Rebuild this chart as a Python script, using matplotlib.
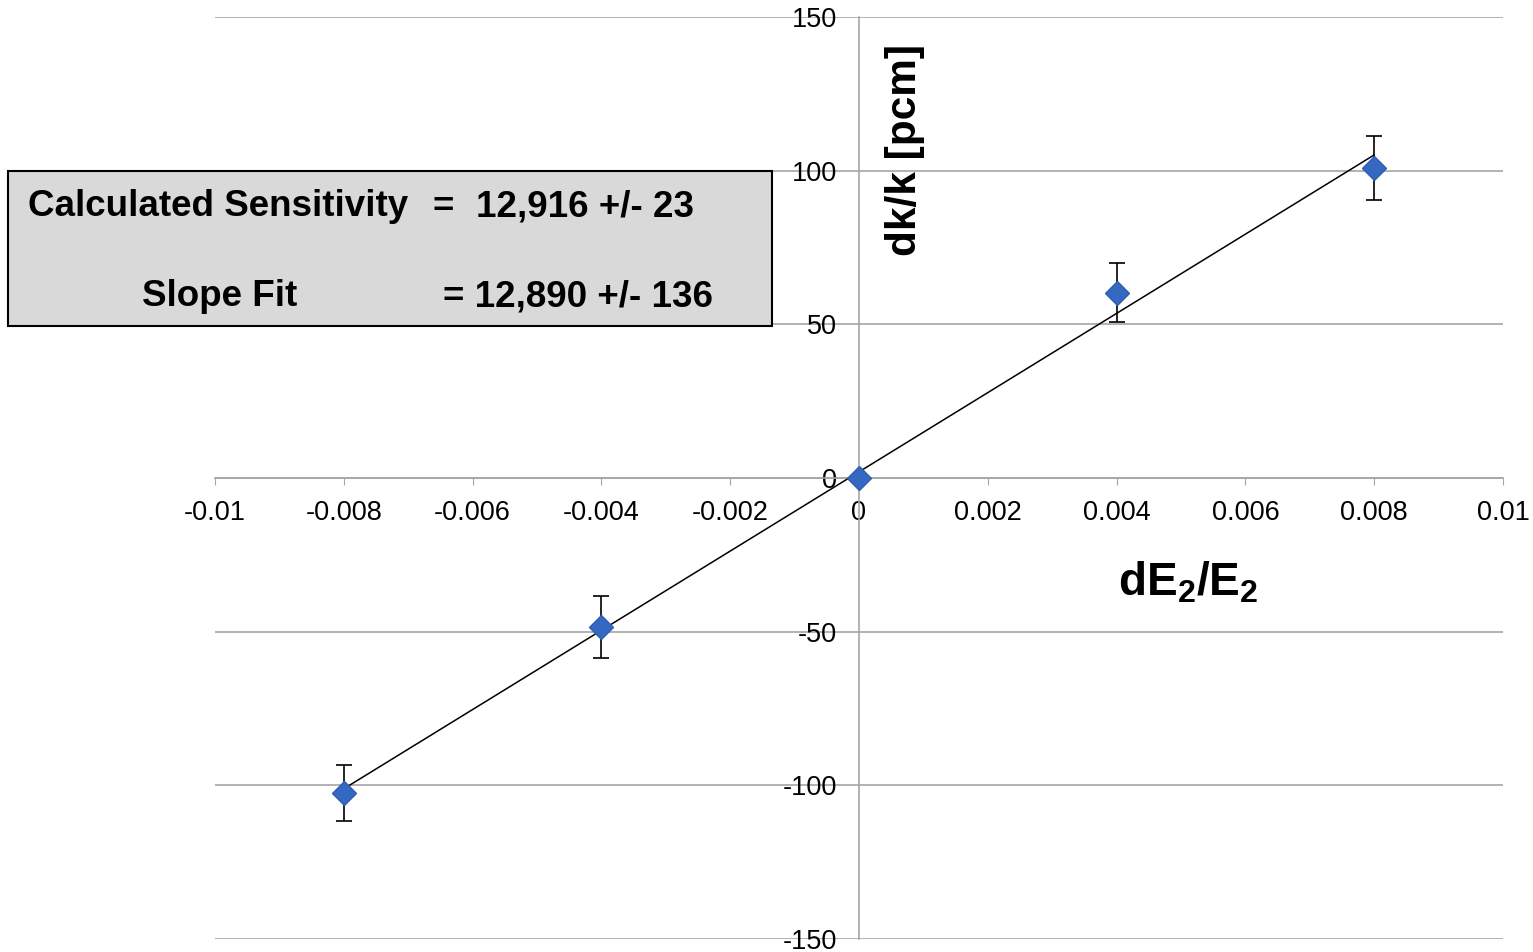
import numpy as np
import matplotlib
matplotlib.use('Agg')
import matplotlib.pyplot as plt
from matplotlib.patches import Rectangle

# data
x_vals = [-0.008, -0.004, 0.0, 0.004, 0.008]
y_vals = [-102.5, -48.5, 0.0, 60.2, 100.9]
y_err = [9.1, 10.0, 0.0, 9.6, 10.4]
fit_slope = 12890
fit_icpt = 2.0
x_ticks = [-0.01, -0.008, -0.006, -0.004, -0.002, 0, 0.002, 0.004, 0.006, 0.008, 0.01]
x_tick_labels = ['-0.01', '-0.008', '-0.006', '-0.004', '-0.002', '0',
                 '0.002', '0.004', '0.006', '0.008', '0.01']
y_ticks = [-150, -100, -50, 0, 50, 100, 150]

plt.rcParams['font.family'] = ['Liberation Sans', 'DejaVu Sans']
plt.rcParams['mathtext.fontset'] = 'custom'
plt.rcParams['mathtext.rm'] = 'Liberation Sans:bold'
plt.rcParams['mathtext.bf'] = 'Liberation Sans:bold'

W, H = 1533, 952
fig = plt.figure(figsize=(W / 100, H / 100), dpi=100)
ax = fig.add_axes([215 / W, 13 / H, (1503 - 215) / W, (939 - 17) / H])

grid_c = '#a6a6a6'
ax.set_xlim(-0.01, 0.01)
ax.set_ylim(-150, 150)
for sp in ['top', 'right']:
    ax.spines[sp].set_visible(False)
ax.spines['left'].set_position(('data', 0))
ax.spines['bottom'].set_position(('data', 0))
ax.spines['left'].set_color(grid_c)
ax.spines['bottom'].set_color(grid_c)
ax.spines['left'].set_linewidth(1.2)
ax.spines['bottom'].set_linewidth(1.2)

ax.set_yticks(y_ticks)
ax.set_yticklabels([str(v) for v in y_ticks])
ax.set_xticks(x_ticks)
ax.set_xticklabels(x_tick_labels)
ax.tick_params(axis='x', direction='out', length=5, color=grid_c, labelsize=19.5, pad=11)
ax.tick_params(axis='y', length=0, labelsize=19.5, pad=16)
ax.yaxis.grid(True, color=grid_c, linewidth=1.2)
ax.set_axisbelow(True)

# fit line
xf = np.array([x_vals[0], x_vals[-1]])
ax.plot(xf, fit_slope * xf + fit_icpt, color='black', linewidth=1.1, zorder=3)

ax.errorbar(x_vals, y_vals, yerr=y_err, fmt='none', ecolor='black',
            elinewidth=1.2, capsize=6, capthick=1.2, zorder=2)
ax.plot(x_vals, y_vals, linestyle='none', marker='D', markersize=12,
        markerfacecolor='#3568c0', markeredgecolor='#2f5fb3', zorder=4)

# labels
fig.text(905 / W, 1 - 150 / H, 'dk/k [pcm]', rotation=90, fontsize=30.5,
         fontweight='bold', ha='center', va='center')
fig.text(1188 / W, 1 - 583 / H, r'$\mathbf{dE_2/E_2}$', fontsize=33,
         ha='center', va='center')

# annotation box
fig.patches.append(Rectangle((8 / W, 1 - 326 / H), (772 - 8) / W, (326 - 171) / H,
                             transform=fig.transFigure, facecolor='#d9d9d9',
                             edgecolor='black', linewidth=1.5, zorder=5))
box_font = dict(fontsize=26.5, fontweight='bold', va='center', ha='left', zorder=6)
fig.text(28 / W, 1 - 207 / H, 'Calculated Sensitivity', **box_font)
fig.text(433 / W, 1 - 207 / H, '=', **box_font)
fig.text(476 / W, 1 - 207 / H, '12,916 +/- 23', **box_font)
fig.text(142 / W, 1 - 297 / H, 'Slope Fit', **box_font)
fig.text(443 / W, 1 - 297 / H, '= 12,890 +/- 136', **box_font)

fig.savefig('out.png', dpi=100)
